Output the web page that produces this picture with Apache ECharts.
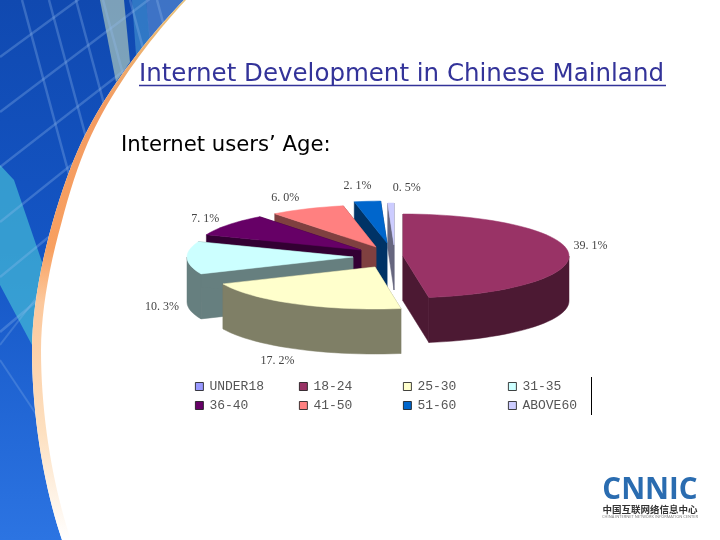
<!DOCTYPE html>
<html lang="en">
<head>
    <meta charset="UTF-8">
    <title>Internet Development in Chinese Mainland</title>
    <script src="https://cdn.jsdelivr.net/npm/echarts@6/dist/echarts.min.js"></script>
    <style>
        html, body { margin: 0; padding: 0; background: #fff; }
        #chart { width: 720px; height: 540px; }
    </style>
</head>
<body>
<div id="chart"></div>
<script type="text/javascript">
    // data; UNDER18 carries no slice or label in the picture
    var ageGroups = ['UNDER18', '18-24', '25-30', '31-35', '36-40', '41-50', '51-60', 'ABOVE60'];
    var ageShares = [0, 39.1, 17.2, 10.3, 7.1, 6.0, 2.1, 0.5];
    var shareLabels = ['', '39. 1%', '17. 2%', '10. 3%', '7. 1%', '6. 0%', '2. 1%', '0. 5%'];
    var sliceColors = ['#9999ff', '#993366', '#ffffcc', '#ccffff', '#660066', '#ff8080', '#0066cc', '#ccccff'];

    // pie drawing, all in pixels
    var rimX = 166, rimY = 42, depth = 45;
    var tips = [[0, 0], [403, 256], [375, 267], [353, 257], [361, 250], [376, 247], [387, 243], [394, 245]];
    var labelShift = [[0, 0], [22, -7], [-18, 57], [-25, 49], [-23, -6], [-22, -11], [-10, -15], [16, -15]];

    var total = ageShares.reduce(function (a, b) { return a + b; }, 0);

    function toAngle(v) {
        return echarts.number.linearMap(v, [0, total], [0, 360]);
    }

    function wallColor(color) {
        var c = echarts.color.parse(color);
        return 'rgb(' + (c[0] >> 1) + ',' + (c[1] >> 1) + ',' + (c[2] >> 1) + ')';
    }

    function rimPoint(tip, deg, drop) {
        var r = deg * Math.PI / 180;
        return [tip[0] + rimX * Math.sin(r), tip[1] - rimY * Math.cos(r) + (drop || 0)];
    }

    function arcPoints(tip, from, to, drop) {
        var pts = [];
        var steps = Math.max(2, Math.ceil((to - from) / 3));
        for (var i = 0; i <= steps; i++) {
            pts.push(rimPoint(tip, from + (to - from) * i / steps, drop));
        }
        return pts;
    }

    function polygon(points, fill) {
        return {
            type: 'polygon',
            shape: { points: points },
            style: { fill: fill, stroke: fill, lineWidth: 0.5 }
        };
    }

    function makeRenderItem(idx) {
        return function (params, api) {
            var value = api.value(0);
            if (!value) {
                return;
            }
            var before = ageShares.slice(0, idx).reduce(function (a, b) { return a + b; }, 0);
            var start = toAngle(before);
            var end = toAngle(before + value);
            var tip = tips[idx];
            var wall = wallColor(sliceColors[idx]);
            var low = [tip[0], tip[1] + depth];
            var children = [];

            // cut faces
            children.push(polygon([tip, rimPoint(tip, start), rimPoint(tip, start, depth), low], wall));
            children.push(polygon([tip, rimPoint(tip, end), rimPoint(tip, end, depth), low], wall));

            // outer wall, only the part facing the viewer
            var from = Math.max(start, 90), to = Math.min(end, 270);
            if (from < to) {
                children.push(polygon(
                    arcPoints(tip, from, to, 0).concat(arcPoints(tip, from, to, depth).reverse()),
                    wall
                ));
            }

            // top face
            children.push(polygon([tip].concat(arcPoints(tip, start, end, 0)), sliceColors[idx]));

            var mid = rimPoint(tip, (start + end) / 2);
            children.push({
                type: 'text',
                style: {
                    x: mid[0] + labelShift[idx][0],
                    y: mid[1] + labelShift[idx][1],
                    text: shareLabels[idx],
                    fill: '#444444',
                    font: '12px "Liberation Serif"',
                    align: 'center',
                    verticalAlign: 'middle'
                }
            });
            return { type: 'group', children: children };
        };
    }

    // back slices first so that the nearer ones cover their walls
    var series = [];
    for (var i = ageGroups.length - 1; i >= 0; i--) {
        series.push({
            type: 'custom',
            name: ageGroups[i],
            coordinateSystem: 'none',
            silent: true,
            itemStyle: { color: sliceColors[i] },
            renderItem: makeRenderItem(i),
            data: [[ageShares[i]]]
        });
    }

    // one vertical legend per column, so the columns line up
    function legendColumn(left, names) {
        return {
            orient: 'vertical',
            left: left,
            top: 379,
            padding: 0,
            itemWidth: 8,
            itemHeight: 8,
            itemGap: 4,
            selectedMode: false,
            icon: 'rect',
            itemStyle: { borderColor: '#111', borderWidth: 0.8 },
            textStyle: {
                fontFamily: '"Liberation Mono"',
                fontSize: 13,
                color: '#555',
                lineHeight: 15,
                padding: [0, 0, 0, 1]
            },
            data: names
        };
    }

    // slide decoration: blue panel, grid, teal bands, orange edge
    function bezierPoints(p0, p1, p2, p3) {
        var pts = [];
        for (var t = 0; t <= 1.001; t += 0.05) {
            var u = 1 - t;
            pts.push([
                u * u * u * p0[0] + 3 * u * u * t * p1[0] + 3 * u * t * t * p2[0] + t * t * t * p3[0],
                u * u * u * p0[1] + 3 * u * u * t * p1[1] + 3 * u * t * t * p2[1] + t * t * t * p3[1]
            ]);
        }
        return pts;
    }
    var edgePoints = bezierPoints([184, 0], [150, 35], [110, 85], [85, 135])
        .concat(bezierPoints([85, 135], [60, 185], [32, 280], [32, 350]))
        .concat(bezierPoints([32, 350], [32, 420], [45, 490], [62, 540]));
    // the orange edge widens on its way down the slide
    var edgeInner = edgePoints.map(function (p) {
        return [p[0] + 2 + 7 * Math.min(1, p[1] / 220), p[1]];
    });

    var decor = [];
    decor.push({
        type: 'rect',
        shape: { x: 0, y: 0, width: 200, height: 540 },
        style: {
            fill: new echarts.graphic.LinearGradient(0, 0, 0, 1, [
                { offset: 0, color: '#1049b0' },
                { offset: 0.45, color: '#1455c4' },
                { offset: 1, color: '#2c74e2' }
            ])
        }
    });
    var bands = [
        { pts: [[100, 0], [124, 0], [130, 62], [116, 82]], fill: 'rgba(190,215,190,0.62)' },
        { pts: [[132, 0], [146, 0], [150, 40], [136, 55]], fill: 'rgba(70,150,210,0.6)' },
        { pts: [[146, 0], [190, 0], [150, 45]], fill: 'rgba(100,150,215,0.55)' },
        { pts: [[0, 165], [14, 180], [42, 262], [32, 345], [0, 285]], fill: 'rgba(70,190,215,0.68)' }
    ];
    bands.forEach(function (b) {
        decor.push({ type: 'polygon', shape: { points: b.pts }, style: { fill: b.fill } });
    });
    var gridLine = { stroke: 'rgba(150,190,240,0.3)', lineWidth: 2.5 };
    for (var k = 0; k < 6; k++) {
        // rising family
        decor.push({
            type: 'line',
            shape: { x1: 0, y1: 57 + k * 55, x2: 180, y2: -75 + k * 55 - k * 4 },
            style: gridLine
        });
        // steep family
        decor.push({
            type: 'line',
            shape: { x1: 22 + k * 27, y1: 0, x2: 22 + k * 27 + 70, y2: 260 },
            style: gridLine
        });
    }
    decor.push({
        type: 'line',
        shape: { x1: 0, y1: 360, x2: 40, y2: 420 },
        style: { stroke: 'rgba(150,190,240,0.25)', lineWidth: 2 }
    });
    decor.push({
        type: 'line',
        shape: { x1: 0, y1: 345, x2: 50, y2: 280 },
        style: { stroke: 'rgba(150,190,240,0.25)', lineWidth: 2 }
    });
    // white page over everything right of the curve
    decor.push({
        type: 'polygon',
        shape: { points: edgePoints.concat([[720, 540], [720, 0]]) },
        style: { fill: '#fff' }
    });
    decor.push({
        type: 'polygon',
        shape: { points: edgePoints.concat(edgeInner.slice().reverse()) },
        style: {
            fill: new echarts.graphic.LinearGradient(0, 0, 0, 1, [
                { offset: 0, color: '#e8c27a' },
                { offset: 0.2, color: '#f39b62' },
                { offset: 0.46, color: '#f8a060' },
                { offset: 0.56, color: '#fcc89c' },
                { offset: 0.8, color: '#fde0c0' },
                { offset: 1, color: '#ffffff' }
            ])
        }
    });

    // title underline and the legend's leftover border
    decor.push({
        type: 'line',
        shape: { x1: 139, y1: 85.5, x2: 666, y2: 85.5 },
        style: { stroke: '#333399', lineWidth: 1.5 }
    });
    decor.push({
        type: 'line',
        shape: { x1: 591.5, y1: 377, x2: 591.5, y2: 415 },
        style: { stroke: '#000', lineWidth: 1 }
    });

    // CNNIC logo
    decor.push({
        type: 'text',
        x: 650,
        y: 491,
        style: {
            text: 'CNNIC',
            fill: '#2a6cb0',
            font: 'bold 29.5px "Open Sans"',
            align: 'center',
            verticalAlign: 'middle'
        }
    });
    decor.push({
        type: 'text',
        x: 650,
        y: 509,
        style: {
            text: '中国互联网络信息中心',
            fill: '#333',
            font: 'bold 9.5px "Noto Sans CJK SC"',
            align: 'center',
            verticalAlign: 'middle'
        }
    });
    decor.push({
        type: 'text',
        x: 650,
        y: 517,
        style: {
            text: 'CHINA INTERNET NETWORK INFORMATION CENTER',
            fill: '#777',
            font: '4px "Open Sans"',
            align: 'center',
            verticalAlign: 'middle'
        }
    });

    var myChart = echarts.init(document.getElementById('chart'), null, { renderer: 'canvas' });
    var option = {
        animation: false,
        backgroundColor: '#fff',
        title: [
            {
                text: 'Internet Development in Chinese Mainland',
                left: 139,
                top: 62,
                padding: 0,
                textStyle: { fontFamily: '"DejaVu Sans"', fontSize: 24.5, fontWeight: 'normal', color: '#333399' }
            },
            {
                text: 'Internet users’ Age:',
                left: 121,
                top: 135,
                padding: 0,
                textStyle: { fontFamily: '"DejaVu Sans"', fontSize: 21.2, fontWeight: 'normal', color: '#000' }
            }
        ],
        legend: [
            legendColumn(195, [ageGroups[0], ageGroups[4]]),
            legendColumn(299, [ageGroups[1], ageGroups[5]]),
            legendColumn(403, [ageGroups[2], ageGroups[6]]),
            legendColumn(508, [ageGroups[3], ageGroups[7]])
        ],
        graphic: { elements: decor },
        series: series
    };
    myChart.setOption(option);
</script>
</body>
</html>
